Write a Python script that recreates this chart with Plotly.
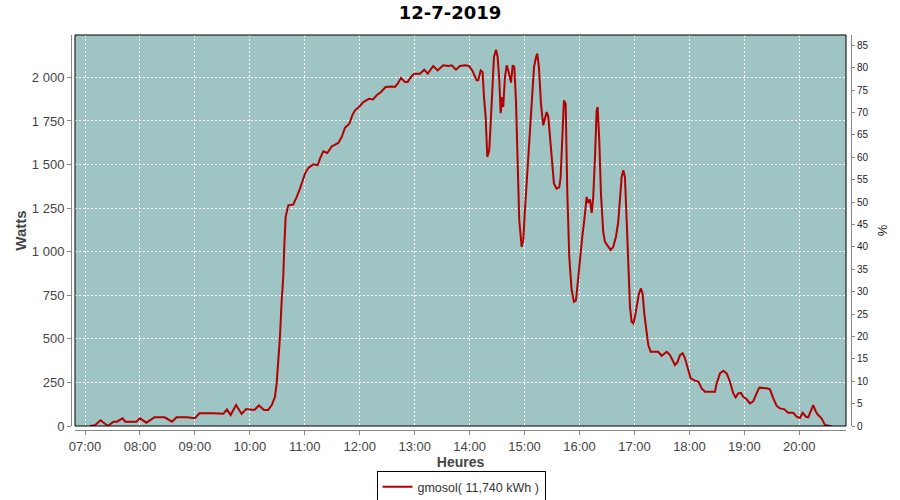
import pandas as pd
import plotly.graph_objects as go

chart_title = "12-7-2019"
series_name = "gmosol( 11,740 kWh )"
day = "2019-07-12"

# minutes after 07:00 and power in watts
minutes_after_7 = [
    5.5, 11, 17, 25, 31, 35, 41, 44, 56, 60, 67, 76, 87, 95, 100, 111, 120, 125, 140, 151,
    155, 159, 165, 171, 176, 185, 190, 195.5, 200, 204, 207.5, 209.3, 211.1, 212.9, 214.8, 216.5, 217.6, 219.1, 222, 227.4,
    231.2, 234.8, 240.2, 243.8, 249.3, 254.1, 256.6, 260.2, 264.6, 269.4, 276.6, 280.3, 283.9, 288.6, 291.9, 294.8, 299.2, 303.9, 310.1, 314.5,
    318.5, 323.2, 328.3, 334.9, 338.5, 341.4, 345, 349.4, 352.4, 356, 359.6, 365.8, 370.5, 374.2, 380.3, 385.1, 391.2, 396.7, 400.4, 405.1,
    409.5, 414.9, 419.3, 422.9, 427.7, 429.4, 432.1, 434.2, 435.7, 437.5, 439.3, 441.4, 443, 444.7, 446.6, 448.8, 450.6, 452.4, 453.9, 455.6,
    456.7, 458.6, 460.5, 462.2, 464.1, 465.2, 467, 468.8, 470.6, 472.5, 474.2, 476.8, 478.6, 480.4, 483, 485.1, 487.8, 490.3, 492.5, 493.9,
    495.7, 497.9, 500.4, 502.3, 504.1, 505.9, 507.7, 509.6, 512.1, 515, 517.9, 519.4, 521.6, 523, 524.9, 526.6, 528.8, 531.4, 533.9, 536.1,
    538, 540.5, 543, 545.2, 547.8, 549.6, 551.4, 553.3, 555, 556.9, 558.7, 559.8, 561.6, 563.4, 565.9, 567.8, 571.4, 574, 576.8, 579.8,
    582.3, 584.2, 586, 587.8, 589.6, 591.5, 593.2, 595.1, 596.9, 598.7, 600.5, 602.4, 604.9, 607.1, 608.9, 610.7, 612.6, 615.1, 617.7, 626,
    629.7, 635.2, 638.8, 644.2, 646.8, 649.7, 652.6, 655.1, 658.8, 661.4, 666.1, 669.7, 673.4, 677, 687.9, 689.8, 693.4, 697, 700.7, 704.3,
    707.9, 710.5, 713.3, 716.3, 718.8, 722.5, 726.1, 729.7, 733.4, 736.3, 744.4, 748, 751.6, 755.3, 758.9, 763.3, 767.9, 773.4, 777.1, 780.7,
    783.7, 787.3, 789.8, 793.4, 795.2, 798.1, 800.6, 804.3, 808, 813.5, 815.6,
]
watts = [
    0, 5, 33, 0, 25, 25, 44, 25, 25, 44, 19, 50, 50, 25, 50, 50, 45, 73, 73, 70,
    95, 63, 120, 69, 97, 92, 118, 92, 92, 120, 168, 245, 378, 512, 722, 856, 1028, 1200, 1266, 1270,
    1314, 1362, 1448, 1480, 1501, 1496, 1534, 1576, 1566, 1604, 1624, 1658, 1711, 1734, 1782, 1811, 1830, 1858, 1877, 1873,
    1897, 1916, 1945, 1948, 1945, 1964, 1996, 1974, 1974, 2002, 2021, 2021, 2044, 2021, 2065, 2040, 2069, 2065, 2069, 2044,
    2065, 2069, 2065, 2040, 1983, 1983, 2040, 2030, 1887, 1773, 1544, 1582, 1736, 1945, 2117, 2159, 2117, 1983, 1794, 1887,
    1830, 2002, 2069, 2040, 1983, 1970, 2069, 2060, 1868, 1505, 1180, 1028, 1066, 1238, 1448, 1677, 1887, 2059, 2117, 2136,
    2059, 1849, 1725, 1775, 1801, 1775, 1658, 1505, 1390, 1362, 1370, 1428, 1734, 1868, 1849, 1352, 970, 779, 712, 720,
    818, 970, 1085, 1180, 1314, 1280, 1300, 1223, 1314, 1544, 1811, 1830, 1639, 1333, 1114, 1056, 1028, 1009, 1028, 1085,
    1171, 1295, 1428, 1467, 1428, 1180, 894, 684, 598, 589, 625, 684, 760, 789, 760, 646, 550, 464, 426, 426,
    403, 426, 407, 350, 365, 407, 417, 390, 321, 273, 260, 255, 216, 197, 197, 245, 302, 317, 302, 254,
    187, 164, 187, 190, 168, 153, 130, 141, 187, 220, 216, 210, 159, 115, 101, 97, 76, 76, 53, 46,
    76, 53, 50, 101, 120, 82, 63, 44, 6, 0, 0,
]

watt_ticks = [0, 250, 500, 750, 1000, 1250, 1500, 1750, 2000]
watt_tick_labels = ["0", "250", "500", "750", "1 000", "1 250", "1 500", "1 750", "2 000"]
pct_ticks = list(range(0, 90, 5))
hour_labels = ["07:00", "08:00", "09:00", "10:00", "11:00", "12:00", "13:00",
               "14:00", "15:00", "16:00", "17:00", "18:00", "19:00", "20:00"]

base = pd.Timestamp(day + " 07:00")
times = base + pd.to_timedelta(minutes_after_7, unit="min")
hour_vals = [pd.Timestamp(day + " " + h) for h in hour_labels]

ML, MR, MT, MB = 71, 49, 35, 70
PW = 900 - ML - MR
PH = 500 - MT - MB

tick_font = dict(family="Liberation Sans", size=13, color="#444444")
grid = dict(showgrid=True, gridcolor="white", gridwidth=1, griddash="2px,2px")

fig = go.Figure()
fig.add_trace(go.Scatter(
    x=times, y=watts, mode="lines", name=series_name,
    line=dict(color="#b40000", width=2), yaxis="y", showlegend=True,
))
fig.add_trace(go.Scatter(
    x=[times[0]], y=[0], mode="lines", yaxis="y2", showlegend=False,
    line=dict(width=0), hoverinfo="skip",
))

fig.update_layout(
    width=900, height=500,
    margin=dict(l=ML, r=MR, t=MT, b=MB, pad=0, autoexpand=False),
    paper_bgcolor="white", plot_bgcolor="#9ec4c3",
    title=dict(text="<b>" + chart_title + "</b>", x=0.5, xanchor="center",
               y=1 - 13 / 500, yanchor="middle", yref="container",
               font=dict(family="DejaVu Sans", size=18, color="black")),
    xaxis=dict(
        type="date", domain=[4 / PW, 1 - 5 / PW], anchor="free", position=0,
        automargin=False,
        range=[pd.Timestamp(day + " 06:49:05"), pd.Timestamp(day + " 20:51:00")],
        tickvals=hour_vals, ticktext=hour_labels, ticks="outside", ticklen=4,
        tickcolor="#888888", showline=True, linecolor="#888888", linewidth=1,
        tickfont=tick_font, zeroline=False,
        title=dict(text="<b>Heures</b>", standoff=4,
                   font=dict(family="Liberation Sans", size=14, color="#444444")),
        **grid,
    ),
    yaxis=dict(
        domain=[4 / PH, 1], anchor="free", position=0, range=[0, 2243],
        automargin=False,
        tickvals=watt_ticks, ticktext=watt_tick_labels, ticks="outside", ticklen=4,
        tickcolor="#888888", showline=True, linecolor="#888888", linewidth=1,
        tickfont=tick_font, zeroline=False,
        title=dict(text="<b>Watts</b>", standoff=0,
                   font=dict(family="Liberation Sans", size=15, color="#444444")),
        **grid,
    ),
    yaxis2=dict(
        overlaying="y", side="right", anchor="free", position=1, range=[0, 87.3],
        automargin=False,
        tickvals=pct_ticks, ticks="outside", ticklen=3,
        tickcolor="#888888", showline=True, linecolor="#888888", linewidth=1,
        tickfont=dict(family="Liberation Sans", size=10, color="#222222"),
        showgrid=False, zeroline=False,
        title=dict(text="%", standoff=10,
                   font=dict(family="Liberation Sans", size=13, color="#222222")),
    ),
    legend=dict(
        orientation="h", x=0.5, xanchor="center", y=13 / 500, yanchor="middle",
        yref="container", bordercolor="black", borderwidth=1, bgcolor="white",
        font=dict(family="Liberation Sans", size=12.5, color="#333333"),
        itemwidth=30, tracegroupgap=0,
    ),
    shapes=[dict(type="rect", xref="x domain", yref="y domain", x0=0, x1=1, y0=0, y1=1,
                 line=dict(color="black", width=1), layer="above")],
)

fig.write_html("out.html", config={"displayModeBar": False},
               post_script="document.body.style.margin='0';")
